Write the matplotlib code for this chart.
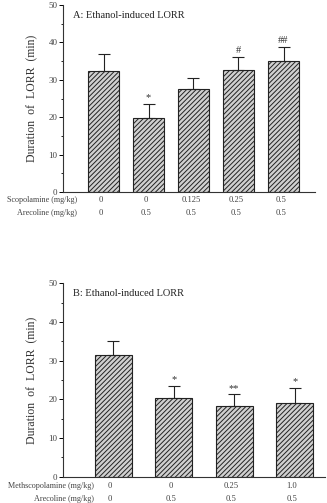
import matplotlib
matplotlib.use("Agg")
import matplotlib.pyplot as plt
from matplotlib.ticker import MultipleLocator

plt.rcParams["font.family"] = ["Liberation Serif", "DejaVu Serif"]
plt.rcParams["hatch.linewidth"] = 0.7
plt.rcParams["hatch.color"] = "#555555"

# Panel A: scopolamine + arecoline
scop_doses = ["0", "0", "0.125", "0.25", "0.5"]
arec_doses_a = ["0", "0.5", "0.5", "0.5", "0.5"]
lorr_a = [32.4, 19.9, 27.5, 32.7, 35.1]
sem_a = [4.4, 3.7, 3.1, 3.4, 3.7]
marks_a = ["", "*", "", "#", "##"]

# Panel B: methscopolamine + arecoline
methscop_doses = ["0", "0", "0.25", "1.0"]
arec_doses_b = ["0", "0.5", "0.5", "0.5"]
lorr_b = [31.5, 20.4, 18.3, 19.1]
sem_b = [3.5, 3.1, 3.0, 3.8]
marks_b = ["", "*", "**", "*"]

W, H = 327, 503
fig = plt.figure(figsize=(W / 100, H / 100), dpi=100)


def draw_panel(ax, values, errs, marks, row1, row2, name1, title, width, xlim, label_x, row_y):
    x = list(range(1, len(values) + 1))
    ax.bar(x, values, width=width, facecolor="#d0d0d0", edgecolor="#222222",
           hatch="///////", linewidth=0.8, zorder=2)
    ax.errorbar(x, values, yerr=[[0] * len(errs), errs], fmt="none",
                ecolor="#222222", elinewidth=0.8, capsize=4, capthick=0.8, zorder=3)
    for xi, v, e, m in zip(x, values, errs, marks):
        if m:
            ax.text(xi, v + e + 0.4, m, ha="center", va="bottom", fontsize=7.5, color="#333333")

    ax.set_xlim(*xlim)
    ax.set_ylim(0, 50)
    ax.yaxis.set_major_locator(MultipleLocator(10))
    ax.yaxis.set_minor_locator(MultipleLocator(5))
    ax.tick_params(axis="y", which="major", length=3, width=0.7, labelsize=6.5,
                   labelcolor="#444444", pad=1)
    ax.tick_params(axis="y", which="minor", length=1.8, width=0.6)
    ax.set_xticks([])
    for s in ("top", "right"):
        ax.spines[s].set_visible(False)
    for s in ("left", "bottom"):
        ax.spines[s].set_linewidth(0.8)
        ax.spines[s].set_color("#333333")

    ax.set_ylabel("Duration  of  LORR  (min)", fontsize=8.5, color="#333333", labelpad=7)
    ax.text(0.04, 0.945, title, transform=ax.transAxes, fontsize=7.5,
            color="#222222", va="center")

    for xi, a, b in zip(x, row1, row2):
        ax.text(xi - 0.05, row_y[0], a, ha="center", va="center", fontsize=6.2,
                color="#444444", clip_on=False)
        ax.text(xi - 0.05, row_y[1], b, ha="center", va="center", fontsize=6.2,
                color="#444444", clip_on=False)
    ax.text(label_x, row_y[0], name1, ha="right", va="center", fontsize=5.9,
            color="#444444", clip_on=False)
    ax.text(label_x, row_y[1], "Arecoline (mg/kg)", ha="right", va="center",
            fontsize=5.9, color="#444444", clip_on=False)


ax_a = fig.add_axes([63 / W, 1 - 192 / H, (315 - 63) / W, 187 / H])
draw_panel(ax_a, lorr_a, sem_a, marks_a, scop_doses, arec_doses_a,
           "Scopolamine (mg/kg)", "A: Ethanol-induced LORR",
           0.69, (0.1, 5.7), 0.41, (-2.2, -5.5))

ax_b = fig.add_axes([63 / W, 1 - 476.7 / H, (325 - 63) / W, 193.4 / H])
draw_panel(ax_b, lorr_b, sem_b, marks_b, methscop_doses, arec_doses_b,
           "Methscopolamine (mg/kg)", "B: Ethanol-induced LORR",
           0.61, (0.17, 4.5), 0.69, (-2.4, -5.8))

fig.savefig("out.png", dpi=100)
